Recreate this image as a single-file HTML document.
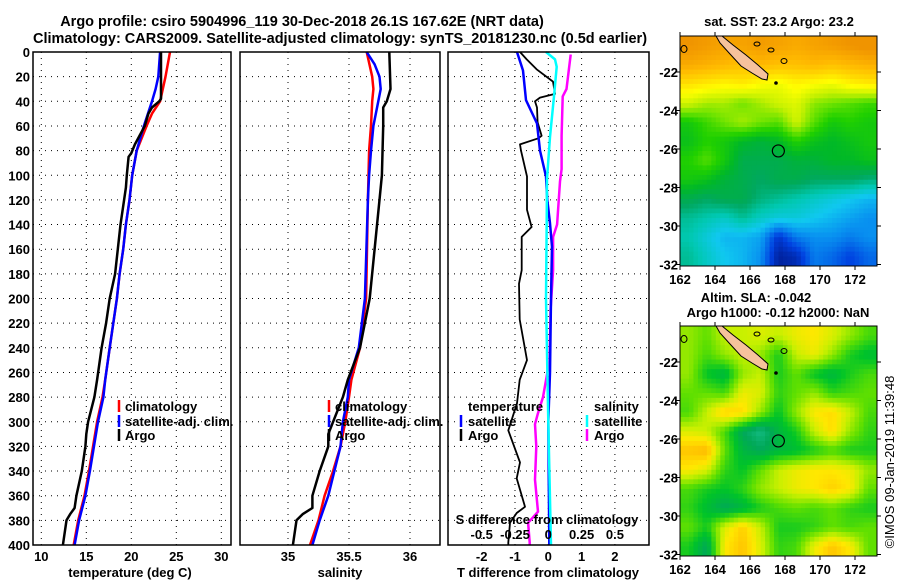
<!DOCTYPE html>
<html><head><meta charset="utf-8"><style>
html,body{margin:0;padding:0;background:#fff;}
svg{display:block;font-family:"Liberation Sans",Arial,sans-serif;font-weight:bold;}
</style></head><body>
<svg id="c" width="900" height="580" viewBox="0 0 900 580" xmlns="http://www.w3.org/2000/svg">
<rect width="900" height="580" fill="#fff"/>
<text x="302" y="26" font-size="14.5" text-anchor="middle">Argo profile: csiro 5904996_119 30-Dec-2018 26.1S 167.62E (NRT data)</text>
<text x="340" y="43" font-size="14.5" text-anchor="middle">Climatology: CARS2009. Satellite-adjusted climatology: synTS_20181230.nc (0.5d earlier)</text>
<g id="g"></g>
</svg>
<script>
// ---------- data ----------
const depthTicks=[0,20,40,60,80,100,120,140,160,180,200,220,240,260,280,300,320,340,360,380,400];
const tempTicks=[10,15,20,25,30];
const salTicks=[35,35.5,36];
const salTickLabels=["35","35.5","36"];
const tdiffTicks=[-2,-1,0,1,2];
const sdiffTicks=[-0.5,-0.25,0,0.25,0.5];
const sdiffTickLabels=["-0.5","-0.25","0","0.25","0.5"];

const tClimDepth=[0,20,40,50,60,80,100,120,140,160,180,200,220,240,266,280,300,340,360,380,400];
const tClimVal=[24.3,23.8,23.2,22.3,21.7,20.6,20.1,19.8,19.4,19.1,18.7,18.4,18.0,17.6,17.1,16.8,16.2,15.3,14.8,14.1,13.6];
const tSatDepth=[0,20,30,40,60,80,100,120,140,160,180,200,220,240,266,280,300,340,360,380,400];
const tSatVal=[23.2,23.0,22.7,22.3,21.4,20.6,20.1,19.8,19.4,19.1,18.7,18.4,18.0,17.6,17.1,16.9,16.3,15.4,14.9,14.2,13.7];
const tArgoDepth=[0,38,40,45,50,60,75,82,85,100,110,120,140,160,180,200,220,240,266,280,300,310,320,340,360,370,375,380,400];
const tArgoVal=[23.3,23.3,23.1,22.3,21.9,21.5,20.4,20.0,19.7,19.5,19.4,19.2,18.8,18.5,18.2,17.6,17.2,16.7,16.2,15.9,15.2,15.0,14.9,14.5,13.9,13.7,13.2,12.8,12.4];

const sClimDepth=[0,20,30,40,60,80,100,120,200,240,266,280,300,320,340,360,380,400];
const sClimVal=[35.645,35.69,35.70,35.69,35.68,35.665,35.66,35.655,35.64,35.59,35.52,35.50,35.47,35.43,35.37,35.30,35.25,35.18];
const sSatDepth=[0,10,20,30,40,60,80,100,120,200,240,266,280,300,320,340,360,380,400];
const sSatVal=[35.645,35.71,35.75,35.76,35.74,35.70,35.68,35.665,35.655,35.63,35.58,35.50,35.49,35.45,35.43,35.38,35.33,35.26,35.20];
const sArgoDepth=[0,30,40,45,60,100,120,160,200,240,266,280,300,310,320,340,360,370,375,380,400];
const sArgoVal=[35.83,35.84,35.81,35.78,35.78,35.77,35.75,35.71,35.67,35.59,35.49,35.45,35.37,35.33,35.33,35.26,35.20,35.20,35.12,35.07,35.04];

const dTSatDepth=[0,15,39,58,80,101,120,139,158,200,260,300,400];
const dTSatVal=[-0.94,-0.76,-0.67,-0.34,-0.25,-0.07,-0.03,0.05,0.11,0.08,0.05,0.0,0.03];
const dSSatDepth=[0,6,12,36,69,103,137,200,300,400];
const dSSatVal=[-0.017,0.05,0.063,0.043,0.013,-0.01,-0.012,-0.017,0.0,0.02];
const dTArgoDepth=[0,6,14,24,34,37,40,45,57,68,70,75,80,101,128,142,150,177,188,217,250,266,285,307,333,346,369,374,382,398,400];
const dTArgoVal=[-0.85,-0.65,-0.35,0.14,0.2,-0.25,-0.4,-0.34,-0.32,-0.2,-0.3,-0.85,-0.82,-0.64,-0.64,-0.5,-0.8,-0.8,-0.88,-0.86,-0.64,-0.86,-0.94,-1.2,-0.85,-0.95,-0.7,-0.95,-1.15,-1.2,-1.2];
const dSArgoDepth=[2,14,30,36,68,95,105,140,150,177,209,250,280,293,302,320,347,373,382,398,400];
const dSArgoVal=[0.168,0.155,0.137,0.108,0.1,0.1,0.088,0.066,0.036,0.036,0.017,0.01,-0.04,-0.077,-0.1,-0.09,-0.1,-0.077,-0.152,-0.14,-0.14];

const lonTicks=[162,164,166,168,170,172];
const latTicks=[-22,-24,-26,-28,-30,-32];
const sstGrid=[
[25.6,25.5,25.4,25.4,25.5,25.4,25.3,25.4,25.5,25.6,25.7],
[25.3,25.2,25.1,25.0,25.1,25.0,25.0,25.1,25.0,25.1,25.2],
[24.6,24.5,24.4,24.5,24.3,24.2,24.4,24.3,24.2,24.4,24.5],
[24.0,23.8,23.8,23.6,23.8,24.0,24.1,23.7,23.6,23.5,23.4],
[23.2,23.4,23.6,23.8,23.6,23.5,24.0,23.5,23.2,23.3,23.2],
[23.1,23.3,23.2,23.0,22.9,23.0,23.3,23.1,23.0,23.1,23.2],
[23.3,23.5,23.2,22.8,22.8,22.8,22.9,22.9,23.0,23.0,23.1],
[23.2,23.1,22.9,22.8,22.7,22.8,22.8,22.7,22.7,22.7,22.6],
[22.8,22.7,22.8,22.8,22.6,22.5,22.4,22.3,22.2,22.1,22.0],
[22.5,22.4,22.3,22.5,22.3,22.2,22.2,22.1,22.0,21.9,21.8],
[22.4,22.2,22.0,22.0,21.9,21.3,21.7,21.8,21.8,21.7,21.8],
[22.5,22.3,22.1,22.0,21.8,21.1,21.2,21.7,21.6,21.4,21.6]];
const slaGrid=[
[0.0,-0.02,0.02,0.02,0.03,0.02,0.04,0.05,0.03,0.0,-0.03],
[0.0,-0.03,0.0,0.02,0.0,-0.05,0.02,0.04,0.0,-0.05,-0.07],
[0.0,-0.06,-0.08,0.0,0.02,-0.05,-0.02,-0.06,-0.08,-0.05,-0.03],
[-0.02,-0.02,-0.03,0.04,0.03,-0.04,-0.02,0.0,-0.04,-0.03,-0.02],
[-0.03,0.02,0.07,0.06,0.0,-0.06,0.0,0.05,0.06,0.02,-0.03],
[0.03,0.02,-0.03,-0.1,-0.13,-0.08,-0.05,0.02,0.06,0.0,-0.04],
[0.08,0.09,-0.02,-0.08,-0.1,-0.08,-0.07,-0.05,-0.03,-0.05,-0.05],
[0.05,0.03,-0.04,-0.06,-0.02,0.02,0.04,0.05,0.05,0.04,0.0],
[-0.03,-0.05,-0.06,-0.04,0.0,0.02,0.04,0.05,0.07,0.05,-0.02],
[-0.04,-0.07,-0.1,-0.08,-0.05,-0.03,-0.02,-0.03,-0.02,-0.04,-0.05],
[-0.02,-0.05,0.03,0.07,0.02,-0.05,-0.05,-0.04,-0.02,-0.03,-0.02],
[-0.05,-0.1,0.05,0.08,0.03,-0.04,-0.03,0.04,0.08,0.05,-0.02]];
const floatLon=167.62, floatLat=-26.1;

// ---------- helpers ----------
const NS="http://www.w3.org/2000/svg";
const G=document.getElementById('g');
function mk(tag,attrs,parent){const e=document.createElementNS(NS,tag);for(const k in attrs)e.setAttribute(k,attrs[k]);(parent||G).appendChild(e);return e;}
function txt(x,y,s,size,anchor,parent){const t=mk('text',{x:x,y:y,'font-size':size,'text-anchor':anchor||'middle'},parent);t.textContent=s;return t;}
const yD=d=>52+d*1.2325;
const xT=v=>41.3+(v-10)*9;
const xS=v=>288+(v-35)*122;
const xDT=v=>548.3+v*33.3;
const xDS=v=>548.3+v*133.2;

function panel(name,x0,x1,vticks,xf){
  const g=mk('g',{});
  
  
  depthTicks.slice(1,-1).forEach(d=>{
    const l=mk('line',{x1:x0,x2:x1,y1:yD(d),y2:yD(d),stroke:'#000','stroke-width':1,'stroke-dasharray':'1 5'},g);
    
    
  });
  vticks.forEach(v=>{
    const l=mk('line',{x1:xf(v),x2:xf(v),y1:52,y2:545,stroke:'#000','stroke-width':1,'stroke-dasharray':'1 5'},g);
    
    
  });
  return g;
}
function frame(name,x0,x1){
  const r=mk('rect',{x:x0,y:52,width:x1-x0,height:493,fill:'none',stroke:'#000','stroke-width':1.5});
  
  
}
function series(name,depths,vals,xf,color,w){
  const pts=depths.map((d,i)=>xf(vals[i]).toFixed(1)+','+yD(d).toFixed(1)).join(' ');
  const p=mk('polyline',{points:pts,fill:'none',stroke:color,'stroke-width':w,'stroke-linejoin':'round'});
  
  
}
function legendEntry(name,mx,y,color,label,tx){
  const l=mk('line',{x1:mx,x2:mx,y1:y-6,y2:y+6,stroke:color,'stroke-width':2.5});
  
  
  const t=txt(tx,y+5,label,13,'start');
  
  
}

// ---------- panel 1: temperature ----------
panel('temperature-grid',33,231,tempTicks,xT);
series('temperature-climatology',tClimDepth,tClimVal,xT,'#f00',2.5);
series('temperature-satellite',tSatDepth,tSatVal,xT,'#00f',2.5);
series('temperature-argo',tArgoDepth,tArgoVal,xT,'#000',2.5);
frame('temperature-panel',33,231);
depthTicks.forEach(d=>{const t=txt(30,yD(d)+5,String(d),13,'end');});
tempTicks.forEach(v=>{const t=txt(xT(v),561,String(v),13);});
{const t=txt(130,577,'temperature (deg C)',13);}
legendEntry('legend-climatology',119,406,'#f00','climatology',125);
legendEntry('legend-satellite-adj',119,421,'#00f','satellite-adj. clim.',125);
legendEntry('legend-argo',119,435,'#000','Argo',125);

// ---------- panel 2: salinity ----------
panel('salinity-grid',240,440,salTicks,xS);
series('salinity-climatology',sClimDepth,sClimVal,xS,'#f00',2.5);
series('salinity-satellite',sSatDepth,sSatVal,xS,'#00f',2.5);
series('salinity-argo',sArgoDepth,sArgoVal,xS,'#000',2.5);
frame('salinity-panel',240,440);
salTicks.forEach((v,i)=>{const t=txt(xS(v),561,salTickLabels[i],13);});
{const t=txt(340,577,'salinity',13);}
legendEntry('legend-s-climatology',329,406,'#f00','climatology',335);
legendEntry('legend-s-satellite-adj',329,421,'#00f','satellite-adj. clim.',335);
legendEntry('legend-s-argo',329,435,'#000','Argo',335);

// ---------- panel 3: differences ----------
panel('difference-grid',448,649,tdiffTicks,xDT);
series('t-diff-argo',dTArgoDepth,dTArgoVal,xDT,'#000',1.8);
series('s-diff-argo',dSArgoDepth,dSArgoVal,xDS,'#f0f',2.5);
series('t-diff-satellite',dTSatDepth,dTSatVal,xDT,'#00f',2.5);
series('s-diff-satellite',dSSatDepth,dSSatVal,xDS,'#0ff',2.5);
frame('difference-panel',448,649);
tdiffTicks.forEach(v=>{const t=txt(xDT(v),561,String(v),13);});
{const t=txt(548,577,'T difference from climatology',13);}
sdiffTicks.forEach((v,i)=>{const t=txt(xDS(v),539,sdiffTickLabels[i],13);});
{const t=txt(547,524,'S difference from climatology',13);}
{const t=txt(468,411,'temperature',13,'start');}
{const t=txt(594,411,'salinity',13,'start');}
legendEntry('legend-t-satellite',461,421,'#00f','satellite',468);
legendEntry('legend-t-argo',461,435,'#000','Argo',468);
legendEntry('legend-s-satellite',587,421,'#0ff','satellite',594);
legendEntry('legend-s-argo',587,435,'#f0f','Argo',594);

// ---------- maps ----------
function lerpColor(stops,v){
  if(v<=stops[0][0])return stops[0][1];
  for(let i=1;i<stops.length;i++){if(v<=stops[i][0]){const a=stops[i-1],b=stops[i],t=(v-a[0])/(b[0]-a[0]);
    const ca=a[1].match(/\w\w/g).map(h=>parseInt(h,16)),cb=b[1].match(/\w\w/g).map(h=>parseInt(h,16));
    return 'rgb('+ca.map((c,k)=>Math.round(c+(cb[k]-c)*t)).join(',')+')';}}
  return stops[stops.length-1][1];
}
const sstStops=[[21.0,'#001888'],[21.4,'#0040e0'],[21.8,'#0890f0'],[22.1,'#10c8f0'],[22.4,'#00c8b0'],[22.7,'#00a860'],[23.0,'#00b828'],[23.3,'#20d000'],[23.6,'#70e400'],[23.9,'#c0f000'],[24.3,'#ffff00'],[24.7,'#ffd800'],[25.1,'#ffb800'],[25.6,'#f09400']];
const slaStops=[[-0.15,'#20c8a0'],[-0.1,'#00a858'],[-0.06,'#00c428'],[-0.02,'#60e000'],[0.02,'#c8f000'],[0.05,'#ffe800'],[0.08,'#ffc400'],[0.12,'#f09818']];

function sample(grid,gy,gx){
  const R=grid.length,C=grid[0].length;
  gy=Math.max(0,Math.min(R-1,gy));gx=Math.max(0,Math.min(C-1,gx));
  const r0=Math.floor(gy),c0=Math.floor(gx),r1=Math.min(R-1,r0+1),c1=Math.min(C-1,c0+1),fy=gy-r0,fx=gx-c0;
  return grid[r0][c0]*(1-fy)*(1-fx)+grid[r0][c1]*(1-fy)*fx+grid[r1][c0]*fy*(1-fx)+grid[r1][c1]*fy*fx;
}
function drawMap(name,top,grid,stops){
  const x0=680,x1=877,y1=top+230;
  const lonX=l=>x0+(l-162)*17.5;
  const latY=l=>top+36+(-22-l)*19.25;
  const g=mk('g',{});
  
  
  const rows=grid.length,cols=grid[0].length,sub=4;
  const cw=(x1-x0)/(cols*sub),ch=(y1-top)/(rows*sub);
  for(let r=0;r<rows*sub;r++)for(let c=0;c<cols*sub;c++){
    const v=sample(grid,(r+0.5)/sub-0.5,(c+0.5)/sub-0.5);
    const cell=mk('rect',{x:(x0+c*cw).toFixed(2),y:(top+r*ch).toFixed(2),width:(cw+0.5).toFixed(2),height:(ch+0.5).toFixed(2),fill:lerpColor(stops,v)},g);
    
    
  }
  const isl=mk('polygon',{points:[[716,top],[722,top],[733,top+9],[746,top+19],[758,top+29],[768,top+38],[767,top+44],[762,top+43],[752,top+37],[741,top+30],[730,top+18],[720,top+7]].map(p=>p.join(',')).join(' '),fill:'#f6c29c',stroke:'#000','stroke-width':1},g);
  
  
  [[757,top+8,3,2],[771,top+14,3,2],[784,top+25,3,2.5],[684,top+13,3,3.5]].forEach(s=>{
    const e=mk('ellipse',{cx:s[0],cy:s[1],rx:s[2],ry:s[3],fill:'none',stroke:'#000','stroke-width':1},g);
    
    
  });
  const d=mk('circle',{cx:776,cy:top+47,r:1.8,fill:'#000'},g);
  
  
  const fc=mk('circle',{cx:lonX(floatLon),cy:latY(floatLat),r:6,fill:'none',stroke:'#000','stroke-width':1.2},g);
  
  
  const fr=mk('rect',{x:x0,y:top,width:x1-x0,height:230,fill:'none',stroke:'#000','stroke-width':1},g);
  
  
  latTicks.forEach(l=>{
    const tk=mk('line',{x1:x0-4,x2:x0,y1:latY(l),y2:latY(l),stroke:'#000'},g);
    
    
    const tk2=mk('line',{x1:x1,x2:x1+4,y1:latY(l),y2:latY(l),stroke:'#000'},g);
    
    
    const t=txt(x0-2,latY(l)+5,String(l),13,'end',g);
    
    
  });
  lonTicks.forEach(l=>{
    const tk=mk('line',{x1:lonX(l),x2:lonX(l),y1:top-4,y2:top,stroke:'#000'},g);
    
    
    const tk2=mk('line',{x1:lonX(l),x2:lonX(l),y1:y1,y2:y1+4,stroke:'#000'},g);
    
    
    const t=txt(lonX(l),y1+18,String(l),13,'middle',g);
    
    
  });
}
drawMap('sst-map',36,sstGrid,sstStops);
drawMap('sla-map',326,slaGrid,slaStops);
{const t=txt(779,26,'sat. SST: 23.2 Argo: 23.2',13);}
{const t=txt(756,302,'Altim. SLA: -0.042',13);}
{const t=txt(778,317,'Argo h1000: -0.12 h2000: NaN',13);}
{const t=txt(0,0,'©IMOS 09-Jan-2019 11:39:48',13);t.setAttribute('transform','translate(894,462) rotate(-90)');t.setAttribute('font-weight','normal');}
</script>
</body></html>
